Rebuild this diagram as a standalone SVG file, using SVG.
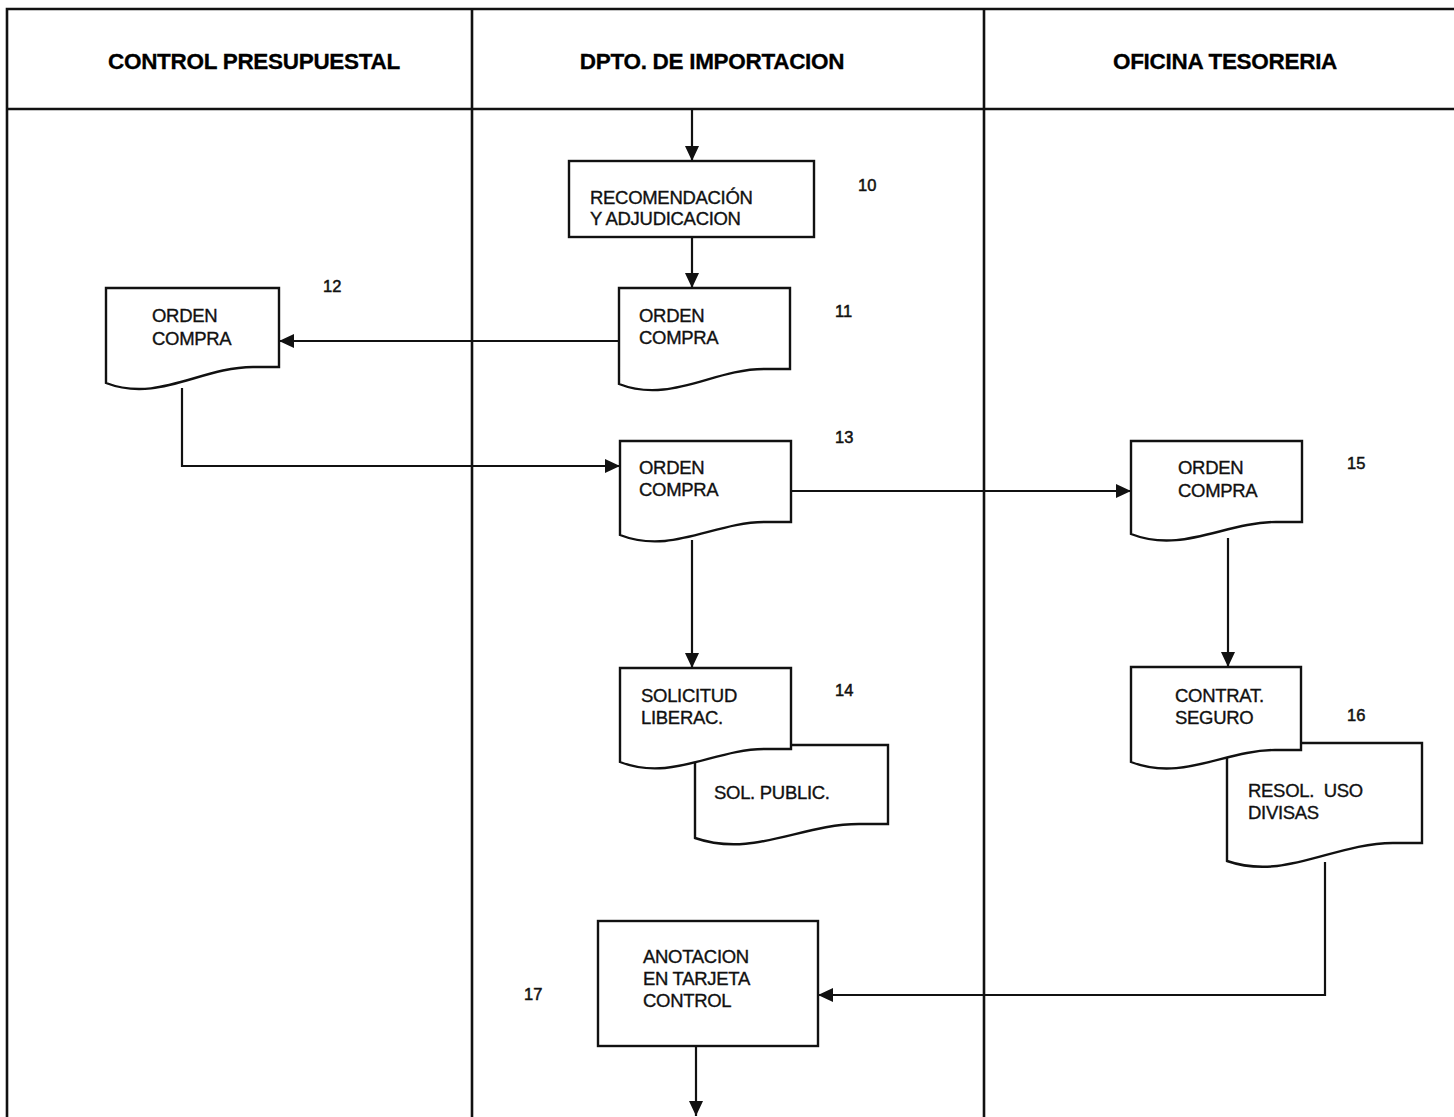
<svg xmlns="http://www.w3.org/2000/svg" width="1454" height="1117" viewBox="0 0 1454 1117">
  <style>
    .frame { fill: none; stroke: #111; stroke-width: 2.6; }
    .box { fill: #fff; stroke: #111; stroke-width: 2.4; }
    .wire { fill: none; stroke: #111; stroke-width: 2.2; }
    .lane { font-family: "Liberation Sans", Arial, sans-serif; font-weight: bold; font-size: 22.5px; fill: #000; text-anchor: middle; letter-spacing: -0.3px; stroke: #000; stroke-width: 0.3px; }
    .lbl { font-family: "Liberation Sans", Arial, sans-serif; font-size: 18.5px; fill: #111; letter-spacing: -0.3px; stroke: #111; stroke-width: 0.35px; }
    .num { font-family: "Liberation Sans", Arial, sans-serif; font-size: 16.5px; fill: #111; stroke: #111; stroke-width: 0.5px; }
  </style>
  <defs>
    <marker id="arrow" markerUnits="userSpaceOnUse" markerWidth="18" markerHeight="16" refX="15" refY="7" orient="auto">
      <path d="M0,0 L15,7 L0,14 z" fill="#111"/>
    </marker>
  </defs>

  <rect x="0" y="0" width="1454" height="1117" fill="#fff"/>

  <!-- swimlane frame -->
  <g id="frame">
    <path class="frame" d="M7,1117 V9 H1454"/>
    <path class="frame" d="M7,109 H1454"/>
    <path class="frame" d="M472,9 V1117"/>
    <path class="frame" d="M984,9 V1117"/>
    <text class="lane" x="254" y="69">CONTROL PRESUPUESTAL</text>
    <text class="lane" x="712" y="69">DPTO. DE IMPORTACION</text>
    <text class="lane" x="1225" y="69">OFICINA TESORERIA</text>
  </g>

  <!-- connectors -->
  <g id="connectors">
    <path class="wire" d="M692,110 V161" marker-end="url(#arrow)"/>
    <path class="wire" d="M692,237 V288" marker-end="url(#arrow)"/>
    <path class="wire" d="M619,341 H279" marker-end="url(#arrow)"/>
    <path class="wire" d="M182,388 V466 H620" marker-end="url(#arrow)"/>
    <path class="wire" d="M791,491 H1131" marker-end="url(#arrow)"/>
    <path class="wire" d="M692,540 V668" marker-end="url(#arrow)"/>
    <path class="wire" d="M1228,538 V667" marker-end="url(#arrow)"/>
    <path class="wire" d="M1325,862 V995 H818" marker-end="url(#arrow)"/>
    <path class="wire" d="M696,1046 V1116" marker-end="url(#arrow)"/>
  </g>

  <!-- 10: process -->
  <g id="n10">
    <rect class="box" x="569" y="161" width="245" height="76"/>
    <text class="lbl" x="590" y="204">RECOMENDACIÓN</text>
    <text class="lbl" x="590" y="225">Y ADJUDICACION</text>
    <text class="num" x="858" y="191">10</text>
  </g>

  <!-- 11: document -->
  <g id="n11">
    <path class="box" d="M619,288 H790 V369 H764 C713,369 670,404 619,384 Z"/>
    <text class="lbl" x="639" y="322">ORDEN</text>
    <text class="lbl" x="639" y="344">COMPRA</text>
    <text class="num" x="835" y="317">11</text>
  </g>

  <!-- 12: document -->
  <g id="n12">
    <path class="box" d="M106,288 H279 V367 H253 C201,367 158,403 106,383 Z"/>
    <text class="lbl" x="152" y="322">ORDEN</text>
    <text class="lbl" x="152" y="345">COMPRA</text>
    <text class="num" x="323" y="292">12</text>
  </g>

  <!-- 13: document -->
  <g id="n13">
    <path class="box" d="M620,441 H791 V522 H765 C714,522 671,555 620,535 Z"/>
    <text class="lbl" x="639" y="474">ORDEN</text>
    <text class="lbl" x="639" y="496">COMPRA</text>
    <text class="num" x="835" y="443">13</text>
  </g>

  <!-- 15: document -->
  <g id="n15">
    <path class="box" d="M1131,441 H1302 V522 H1276 C1225,522 1182,554 1131,534 Z"/>
    <text class="lbl" x="1178" y="474">ORDEN</text>
    <text class="lbl" x="1178" y="497">COMPRA</text>
    <text class="num" x="1347" y="469">15</text>
  </g>

  <!-- 14: stacked documents -->
  <g id="n14">
    <path class="box" d="M695,745 H888 V824 H859 C801,824 753,858 695,838 Z"/>
    <path class="box" d="M620,668 H791 V749 H765 C714,749 671,782 620,762 Z"/>
    <text class="lbl" x="641" y="702">SOLICITUD</text>
    <text class="lbl" x="641" y="724">LIBERAC.</text>
    <text class="lbl" x="714" y="799">SOL. PUBLIC.</text>
    <text class="num" x="835" y="696">14</text>
  </g>

  <!-- 16: stacked documents -->
  <g id="n16">
    <path class="box" d="M1227,743 H1422 V843 H1393 C1334,843 1285,881 1227,861 Z"/>
    <path class="box" d="M1131,667 H1301 V750 H1275 C1225,750 1182,782 1131,762 Z"/>
    <text class="lbl" x="1175" y="702">CONTRAT.</text>
    <text class="lbl" x="1175" y="724">SEGURO</text>
    <text class="lbl" x="1248" y="797" xml:space="preserve">RESOL.  USO</text>
    <text class="lbl" x="1248" y="819">DIVISAS</text>
    <text class="num" x="1347" y="721">16</text>
  </g>

  <!-- 17: process -->
  <g id="n17">
    <rect class="box" x="598" y="921" width="220" height="125"/>
    <text class="lbl" x="643" y="963">ANOTACION</text>
    <text class="lbl" x="643" y="985">EN TARJETA</text>
    <text class="lbl" x="643" y="1007">CONTROL</text>
    <text class="num" x="524" y="1000">17</text>
  </g>
</svg>
